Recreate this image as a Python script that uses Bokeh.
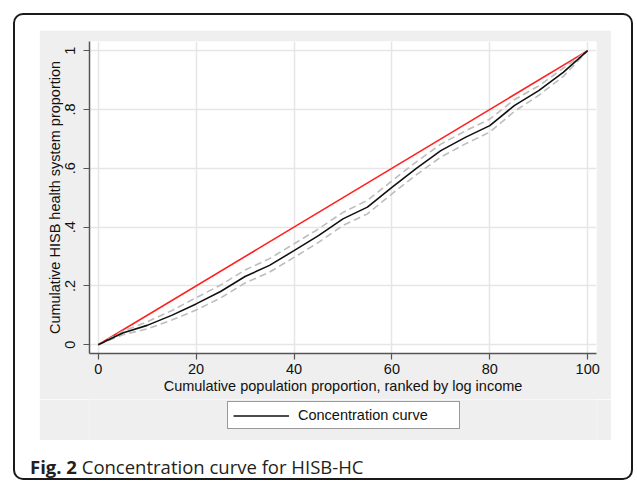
from bokeh.plotting import figure
from bokeh.models import Range1d, FixedTicker, Legend, LegendItem, Div
from bokeh.layouts import column
from bokeh.embed import file_html
from bokeh.resources import INLINE

# ---- data ----
pop = [0, 5, 10, 15, 20, 25, 30, 35, 40, 45, 50, 55, 60, 65, 70, 75, 80, 85, 90, 95, 100]
conc = [0, 0.040, 0.066, 0.100, 0.139, 0.181, 0.232, 0.270, 0.320, 0.371, 0.428,
        0.468, 0.535, 0.600, 0.660, 0.705, 0.745, 0.813, 0.864, 0.926, 1.0]
conc_upper = [0, 0.046, 0.078, 0.116, 0.160, 0.203, 0.254, 0.293, 0.343, 0.394, 0.450,
              0.491, 0.557, 0.622, 0.682, 0.727, 0.767, 0.833, 0.880, 0.940, 1.0]
conc_lower = [0, 0.034, 0.054, 0.084, 0.118, 0.159, 0.210, 0.247, 0.297, 0.348, 0.406,
              0.445, 0.513, 0.578, 0.638, 0.683, 0.723, 0.793, 0.848, 0.912, 1.0]
equality_x = [0, 100]
equality_y = [0, 1]
xtick_vals = [0, 20, 40, 60, 80, 100]
ytick_vals = [0, 0.2, 0.4, 0.6, 0.8, 1]
ytick_labels = ["0", ".2", ".4", ".6", ".8", "1"]
x_title = "Cumulative population proportion, ranked by log income"
y_title = "Cumulative HISB health system proportion"
legend_label = "Concentration curve"
caption_bold = "Fig. 2"
caption_text = "Concentration curve for HISB-HC"

FONT = "Liberation Sans"
FS = "14.5px"
PANEL = "#efefef"
CC_STYLE = dict(line_color="#111111", line_width=1.6)

# ---- main plot ----
p = figure(width=572, height=369, output_backend="svg", toolbar_location=None,
           x_range=Range1d(-1.78, 101.8), y_range=Range1d(-0.0296, 1.031),
           min_border_left=50, min_border_right=15, min_border_top=11, min_border_bottom=46,
           border_fill_color=PANEL, background_fill_color="white", outline_line_color=None)
p.margin = (0, 0, 0, 9)

p.line(equality_x, equality_y, line_color="#ff2020", line_width=1.6)
p.line(pop, conc_upper, line_color="#bdbdbd", line_width=1.6, line_dash="7 4")
p.line(pop, conc_lower, line_color="#bdbdbd", line_width=1.6, line_dash="7 4")
p.line(pop, conc, **CC_STYLE)

for ax in (p.xaxis[0], p.yaxis[0]):
    ax.major_tick_out = 6
    ax.major_tick_in = 0
    ax.minor_tick_out = 0
    ax.minor_tick_in = 0
    ax.axis_line_color = "#555555"
    ax.axis_line_width = 1.5
    ax.major_tick_line_color = "#555555"
    ax.major_tick_line_width = 1.2
    ax.major_label_text_font = FONT
    ax.major_label_text_font_size = FS
    ax.major_label_text_color = "#111111"
    ax.axis_label_text_font = FONT
    ax.axis_label_text_font_size = FS
    ax.axis_label_text_font_style = "normal"
    ax.axis_label_text_color = "#111111"

p.xaxis.major_label_standoff = 4
p.xaxis.axis_label_standoff = 1
p.yaxis.major_label_standoff = 8
p.yaxis.axis_label_standoff = 0

p.xaxis.ticker = FixedTicker(ticks=xtick_vals)
p.yaxis.ticker = FixedTicker(ticks=ytick_vals)
p.yaxis.major_label_overrides = {v: l for v, l in zip(ytick_vals, ytick_labels)}
p.yaxis.major_label_orientation = "vertical"
p.xaxis.axis_label = x_title
p.yaxis.axis_label = y_title

p.xgrid.ticker = FixedTicker(ticks=xtick_vals)
p.ygrid.ticker = FixedTicker(ticks=ytick_vals)
for g in (p.xgrid[0], p.ygrid[0]):
    g.grid_line_color = "#e6e6e6"
    g.grid_line_width = 1.5

# ---- legend strip (part of the grey graph region) ----
p2 = figure(width=572, height=41, output_backend="svg", toolbar_location=None,
            x_axis_location=None, y_axis_location=None,
            x_range=Range1d(-1.78, 101.8), y_range=Range1d(-0.0296, 1.031),
            min_border=0, min_border_left=0, min_border_right=0,
            min_border_top=0, min_border_bottom=0,
            border_fill_color=PANEL, background_fill_color=PANEL,
            outline_line_color=None)
p2.margin = (0, 0, 0, 9)
p2.grid.visible = False
r_leg = p2.line(pop, conc, visible=False, **CC_STYLE)

legend = Legend(items=[LegendItem(label=legend_label, renderers=[r_leg])],
                location=(138, 11), orientation="horizontal",
                padding=5, margin=0, spacing=0,
                glyph_width=56, glyph_height=15, label_height=15, label_width=156,
                label_standoff=9,
                label_text_font=FONT, label_text_font_size=FS, label_text_color="#111111",
                border_line_color="#333333", border_line_width=1,
                background_fill_color="white", background_fill_alpha=1,
                inactive_fill_alpha=0)
p2.add_layout(legend)

cap = Div(text=('<div style="font-family:\'Open Sans\';font-size:18.5px;color:#231f20;'
                'padding-top:16px;line-height:22px;white-space:nowrap">'
                f'<b>{caption_bold}</b> {caption_text}</div>'),
          width=581, height=38)
cap.margin = (0, 0, 0, 0)

layout = column(p, p2, cap,
                styles={"border": "2px solid #1a1a1a", "border-radius": "10px",
                        "padding": "15px 20px 0px 15px", "background-color": "white"})
layout.margin = (13, 0, 0, 13)

open("out.html", "w").write(file_html(layout, INLINE))
